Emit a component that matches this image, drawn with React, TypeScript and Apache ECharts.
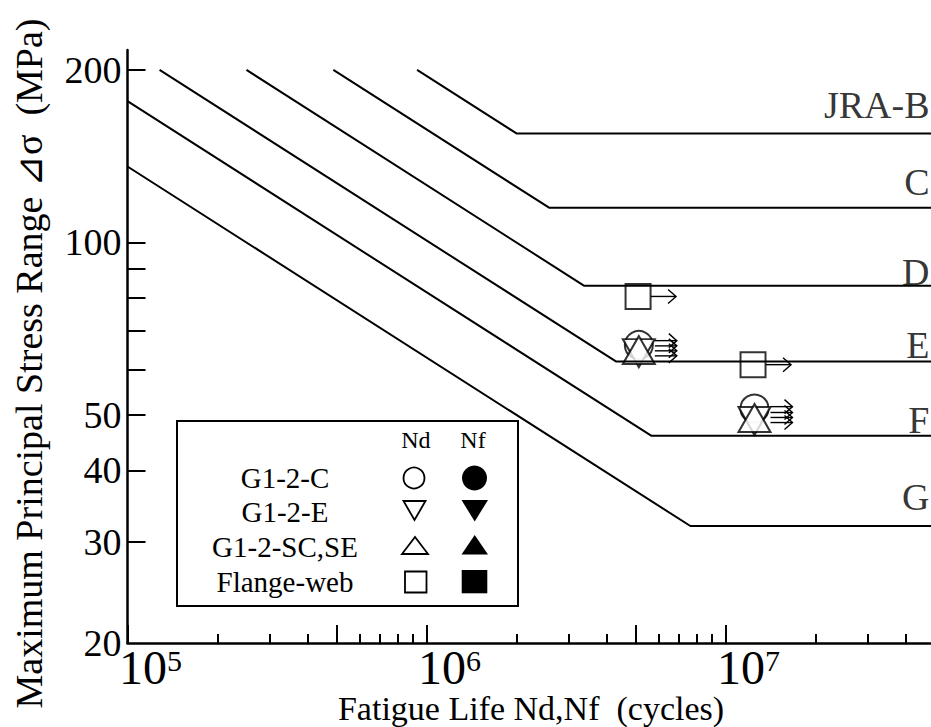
import React, { useEffect, useRef } from "react";
import * as echarts from "echarts";

// ---- axis extents (data units) ----
const X_MIN = 1e5;
const X_MAX = 5e7;
const Y_MIN = 20;
const Y_MAX = 216.7;

// ---- tick values ----
const xMajorTicks = [1e5, 5e5, 1e6, 5e6, 1e7, 5e7];
const xMinorTicks = [2e5, 3e5, 4e5, 6e5, 7e5, 8e5, 9e5, 2e6, 3e6, 4e6, 6e6, 7e6, 8e6, 9e6, 2e7, 3e7, 4e7];
const xLabelTicks = [1e5, 1e6, 1e7];
const yTicks = [30, 40, 50, 60, 70, 80, 90, 100, 200];
const yLabelTicks = [20, 30, 40, 50, 100, 200];

// ---- JRA design curves [N, stress] ----
const curveNames = ["JRA-B", "C", "D", "E", "F", "G"];
const curveB = [[9.3e5, 200], [2.0e6, 155], [5e7, 155]];
const curveC = [[4.88e5, 200], [2.57e6, 115], [5e7, 115]];
const curveD = [[2.5e5, 200], [3.37e6, 84], [5e7, 84]];
const curveE = [[1.28e5, 200], [4.3e6, 62], [5e7, 62]];
const curveF = [[1e5, 176.4], [5.64e6, 46], [5e7, 46]];
const curveG = [[1e5, 135.7], [7.63e6, 32], [5e7, 32]];
const curves = [curveB, curveC, curveD, curveE, curveF, curveG];
const curveLabelStress = [173.4, 127.7, 88.9, 66.2, 49.0, 35.95];

// ---- specimen results (Nd, run-outs) ----
const g12cNd = [[5.13e6, 66.25], [1.25e7, 51.3]];
const g12eNd = [[5.13e6, 64.1], [1.25e7, 48.8]];
const g12scNd = [[5.13e6, 64.9], [1.25e7, 49.4]];
const flangeNd = [[5.1e6, 80.5], [1.236e7, 61.2]];
const runoutTri = [
  [5.13e6, 67.4], [5.13e6, 66.0], [5.13e6, 64.7], [5.13e6, 63.4],
  [1.25e7, 51.7], [1.25e7, 50.5], [1.25e7, 49.5], [1.25e7, 48.5],
];
const runoutSquare = [[5.1e6, 80.5], [1.236e7, 61.2]];

const FONT = "Liberation Serif";
const L = Math.log10;
const toLog = (pts: number[][]) => pts.map(([n, s]) => [L(n), L(s)]);

function arrowSeries(data: number[][], startOff: number, endOff: number) {
  return {
    type: "custom",
    silent: true,
    data: toLog(data),
    renderItem: (_p: any, api: any) => {
      const p = api.coord([api.value(0), api.value(1)]);
      const x0 = p[0] + startOff;
      const x1 = p[0] + endOff;
      const y = p[1];
      return {
        type: "group",
        children: [
          { type: "line", shape: { x1: x0, y1: y, x2: x1, y2: y }, style: { stroke: "#000", lineWidth: 1.4 } },
          {
            type: "polyline",
            shape: { points: [[x1 - 8, y - 7], [x1, y], [x1 - 8, y + 7]] },
            style: { stroke: "#000", fill: "none", lineWidth: 1.4 },
          },
        ],
      };
    },
  };
}

const openMarker = { color: "#fff", borderColor: "#000", borderWidth: 2 };

export default function App() {
  const ref = useRef<HTMLDivElement>(null);
  useEffect(() => {
    if (!ref.current) return;
    const chart = echarts.init(ref.current, null, { renderer: "svg" });
    const lineSeries = curves.map((c, i) => ({
      type: "line",
      name: curveNames[i],
      data: toLog(c),
      symbol: "none",
      silent: true,
      lineStyle: { color: "#000", width: 2 },
    }));
    const labelSeries = {
      type: "scatter",
      silent: true,
      symbolSize: 0,
      data: curveNames.map((n, i) => ({ name: n, value: [L(X_MAX), L(curveLabelStress[i])] })),
      label: {
        show: true,
        position: "left",
        distance: 5,
        formatter: (p: any) => p.name,
        fontSize: 38,
        fontFamily: FONT,
        color: "#000",
      },
    };
    const option: any = {
      animation: false,
      backgroundColor: "#fff",
      textStyle: { fontFamily: FONT },
      grid: { left: 127.5, top: 50, width: 807, height: 593, containLabel: false, outerBoundsMode: "none" },
      xAxis: [
        {
          type: "value",
          min: L(X_MIN),
          max: L(X_MAX),
          position: "bottom",
          name: "Fatigue Life Nd,Nf  (cycles)",
          nameLocation: "middle",
          nameGap: 48,
          nameMoveOverlap: false,
          nameTextStyle: { fontSize: 34, lineHeight: 34, fontFamily: FONT, color: "#000" },
          axisLine: { onZero: false, lineStyle: { color: "#000", width: 2.5 } },
          axisTick: { inside: true, length: 18, customValues: xMajorTicks.map(L), lineStyle: { color: "#000", width: 2 } },
          splitLine: { show: false },
          axisLabel: {
            customValues: xLabelTicks.map(L),
            margin: 2,
            lineHeight: 44,
            formatter: (v: number) => `{sp| }{b|10}{s|${Math.round(v)}}`,
            rich: {
              sp: { width: 46, fontSize: 10, lineHeight: 44 },
              b: { fontSize: 48, lineHeight: 44, fontFamily: FONT, color: "#000" },
              s: { fontSize: 30, lineHeight: 30, fontFamily: FONT, color: "#000", verticalAlign: "top" },
            },
          },
        },
        {
          type: "value",
          min: L(X_MIN),
          max: L(X_MAX),
          position: "bottom",
          axisLine: { show: false, onZero: false },
          axisTick: { inside: true, length: 9, customValues: xMinorTicks.map(L), lineStyle: { color: "#000", width: 2 } },
          axisLabel: { show: false },
          splitLine: { show: false },
        },
      ],
      yAxis: {
        type: "value",
        min: L(Y_MIN),
        max: L(Y_MAX),
        name: "Maximum Principal Stress Range ⊿σ  (MPa)",
        nameLocation: "middle",
        nameRotate: 90,
        nameGap: 80,
        nameMoveOverlap: false,
        nameTextStyle: { fontSize: 38, fontFamily: FONT, color: "#000", padding: [0, 34, 0, 0] },
        axisLine: { onZero: false, lineStyle: { color: "#000", width: 2.5 } },
        axisTick: { inside: true, length: 18, customValues: yTicks.map(L), lineStyle: { color: "#000", width: 2 } },
        splitLine: { show: false },
        axisLabel: {
          customValues: yLabelTicks.map(L),
          margin: 6,
          formatter: (v: number) => String(Math.round(Math.pow(10, v))),
          fontSize: 38,
          fontFamily: FONT,
          color: "#000",
        },
      },
      series: [
        ...lineSeries,
        labelSeries,
        { type: "scatter", name: "G1-2-C Nd", data: toLog(g12cNd), symbol: "circle", symbolSize: 28, itemStyle: openMarker, silent: true },
        { type: "scatter", name: "G1-2-E Nd", data: toLog(g12eNd), symbol: "triangle", symbolRotate: 180, symbolSize: [32, 28], itemStyle: openMarker, silent: true },
        { type: "scatter", name: "G1-2-SC,SE Nd", data: toLog(g12scNd), symbol: "triangle", symbolSize: [32, 28], itemStyle: openMarker, silent: true },
        { type: "scatter", name: "Flange-web Nd", data: toLog(flangeNd), symbol: "rect", symbolSize: 25, itemStyle: openMarker, silent: true },
        arrowSeries(runoutTri, 16, 38),
        arrowSeries(runoutSquare, 12.5, 38),
      ],
      graphic: [
        { type: "rect", z: 100, shape: { x: 177, y: 421, width: 341, height: 185 }, style: { fill: "#fff", stroke: "#000", lineWidth: 2 } },
        ...[
          ["Nd", 415.8, 440, 24],
          ["Nf", 473, 440, 24],
          ["G1-2-C", 285, 478, 29],
          ["G1-2-E", 285, 511.5, 29],
          ["G1-2-SC,SE", 285, 546.5, 29],
          ["Flange-web", 285, 581.5, 29],
        ].map(([t, x, y, fs]) => ({
          type: "text",
          z: 101,
          style: {
            text: t, x, y, fontSize: fs, fontFamily: FONT, fill: "#000",
            align: "center", verticalAlign: "middle", textAlign: "center", textVerticalAlign: "middle",
          },
        })),
        { type: "circle", z: 101, shape: { cx: 414, cy: 478, r: 10.5 }, style: { fill: "#fff", stroke: "#000", lineWidth: 1.8 } },
        { type: "circle", z: 101, shape: { cx: 474.5, cy: 478, r: 12.5 }, style: { fill: "#000" } },
        { type: "polygon", z: 101, shape: { points: [[403.5, 501], [425.5, 501], [414.5, 520]] }, style: { fill: "#fff", stroke: "#000", lineWidth: 1.8 } },
        { type: "polygon", z: 101, shape: { points: [[461.5, 500], [488, 500], [474.7, 521.5]] }, style: { fill: "#000" } },
        { type: "polygon", z: 101, shape: { points: [[402, 554], [428, 554], [415, 537]] }, style: { fill: "#fff", stroke: "#000", lineWidth: 1.8 } },
        { type: "polygon", z: 101, shape: { points: [[461.5, 554.5], [488, 554.5], [474.7, 535]] }, style: { fill: "#000" } },
        { type: "rect", z: 101, shape: { x: 405, y: 571.5, width: 21.5, height: 21 }, style: { fill: "#fff", stroke: "#000", lineWidth: 1.8 } },
        { type: "rect", z: 101, shape: { x: 461.7, y: 570, width: 25.6, height: 23.3 }, style: { fill: "#000" } },
      ],
    };
    chart.setOption(option);
    return () => chart.dispose();
  }, []);
  return (
    <div
      ref={ref}
      style={{ position: "fixed", left: 0, top: 0, width: 931, height: 727, background: "#fff" }}
    />
  );
}
